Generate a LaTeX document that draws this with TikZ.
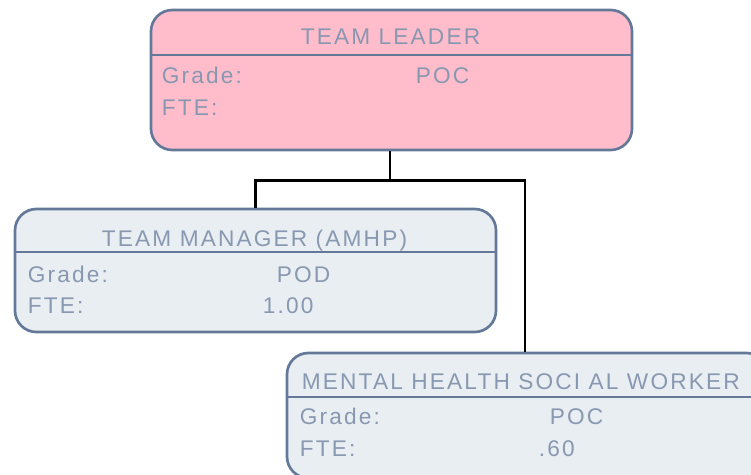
\documentclass[tikz,border=0pt]{standalone}
\usepackage{fontspec}
\setmainfont{Liberation Sans}[LetterSpace=9.5]
\usetikzlibrary{calc,positioning}
\definecolor{framecol}{HTML}{64799A}
\definecolor{labelcol}{HTML}{8898B1}
\definecolor{leaderfill}{HTML}{FFBCCB}
\definecolor{staffinfill}{HTML}{E9EEF2}
\tikzset{
  post/.style={draw=framecol, line width=2pt, rounded corners=16pt, minimum width=481*0.75pt, inner sep=0pt},
  divider/.style={draw=framecol, line width=1.6pt},
  link/.style={draw=black, line width=1.8pt},
  caption/.style={font=\fontsize{17}{20}\selectfont, text=labelcol, anchor=base, inner sep=0pt},
  field/.style={caption, anchor=base west}
}

\begin{document}
\begin{tikzpicture}[x=0.75pt, y=-0.75pt]
  \useasboundingbox (0,0) rectangle (751,475);
  \clip (0,0) rectangle (751,475);
  % boxes
  \node[post, fill=leaderfill, minimum height=140*0.75pt] (leader) at (391.5,80) {};
  \node[post, fill=staffinfill, minimum height=123*0.75pt] (manager) at (255.5,270.5) {};
  \node[post, fill=staffinfill, minimum height=125*0.75pt] (worker) at (527.5,415.5) {};
  % header lines
  \draw[divider] ($(leader.north west)+(0,46)$) -- ($(leader.north east)+(0,46)$);
  \draw[divider] ($(manager.north west)+(0,44)$) -- ($(manager.north east)+(0,44)$);
  \draw[divider] ($(worker.north west)+(0,45)$) -- ($(worker.north east)+(0,45)$);
  % texts
  \node[caption] (leader-title) at ($(leader.north)+(-1,36)$) {TEAM LEADER};
  \node[field] (leader-grade) at ($(leader.north west)+(12,74.5)$) {Grade:};
  \node[field] (leader-fte) at ($(leader.north west)+(12,106.5)$) {FTE:};
  \node[field] (leader-gradeval) at ($(leader.north west)+(266,74.5)$) {POC};
  \node[caption] (manager-title) at ($(manager.north)+(-1,38.5)$) {TEAM MANAGER (AMHP)};
  \node[field] (manager-grade) at ($(manager.north west)+(14,74.5)$) {Grade:};
  \node[field] (manager-fte) at ($(manager.north west)+(14,106)$) {FTE:};
  \node[field] (manager-gradeval) at ($(manager.north west)+(263,74.5)$) {POD};
  \node[field] (manager-fteval) at ($(manager.north west)+(249,106)$) {1.00};
  \node[field] (worker-title) at ($(worker.north west)+(16,38)$) {MENTAL HEALTH SOCI AL WORKER};
  \node[field] (worker-grade) at ($(worker.north west)+(14,72.5)$) {Grade:};
  \node[field] (worker-fte) at ($(worker.north west)+(14,104.5)$) {FTE:};
  \node[field] (worker-gradeval) at ($(worker.north west)+(264,72.5)$) {POC};
  \node[field] (worker-fteval) at ($(worker.north west)+(253,104.5)$) {.60};
  % connectors
  \coordinate (fork) at ($(leader.south)+(-1.5,29)$);
  \draw[link] (leader.south -| fork) -- (fork);
  \draw[link] (fork) -| (manager.north);
  \draw[link] (fork) -| ($(worker.north)+(-2.5,0)$);
\end{tikzpicture}
\end{document}
